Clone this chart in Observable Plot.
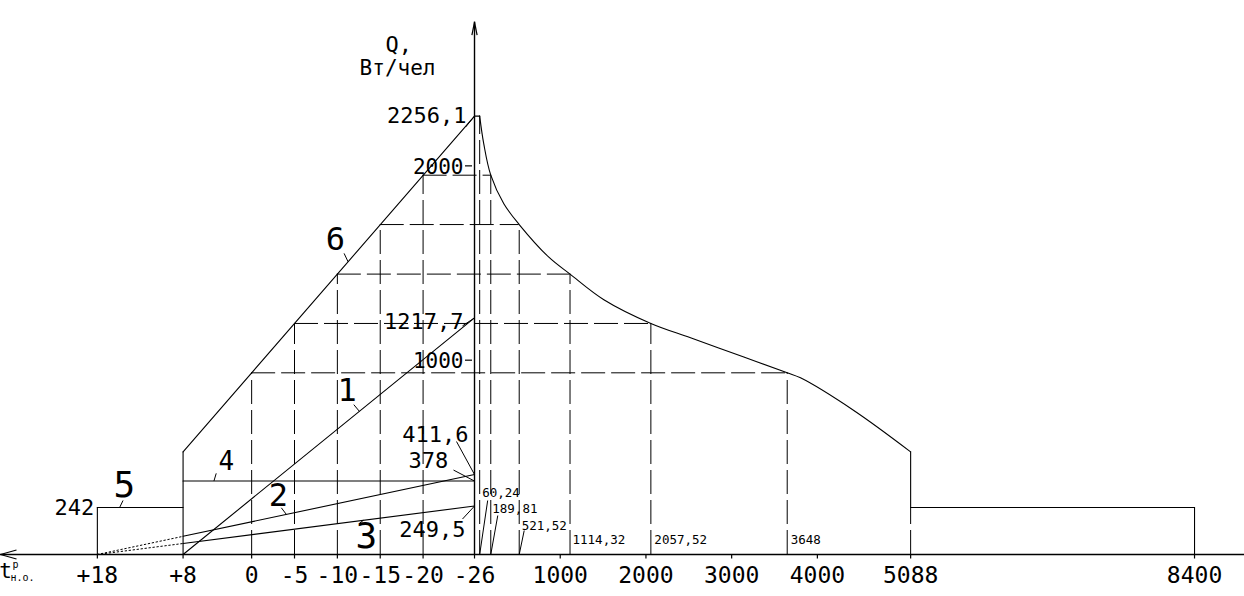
<!DOCTYPE html>
<html><head><meta charset="utf-8">
<script src="https://cdn.jsdelivr.net/npm/d3@7"></script>
<script src="https://cdn.jsdelivr.net/npm/@observablehq/plot@0.6"></script>
<style>html,body{margin:0;padding:0;background:#fff;} svg{display:block}</style>
</head><body><div id="chart"></div>
<script>
// ---- axis ticks ----
const tempTicks = [18, 8, 0, -5, -10, -15, -20, -26];
const tempTickLabels = ["+18", "+8", "0", "-5", "-10", "-15", "-20", "-26"];
const hourTicks = [1000, 2000, 3000, 4000, 5088, 8400];
const hourTickLabels = ["1000", "2000", "3000", "4000", "5088", "8400"];
const qTicks = [1000, 2000];
const qTickLabels = ["1000", "2000"];

// ---- loads vs outdoor temperature (t, Q) ----
const line1T = [8, -26],      line1Q = [0, 1217.7];
const line2T = [18, 8, -26],  line2Q = [0, 93.5, 411.6];
const line3T = [18, 8, -26],  line3Q = [0, 56.7, 249.5];
const line4T = [8, -26],      line4Q = [378, 378];
const line5T = [18, 8],       line5Q = [242, 242];
const line6T = [8, -26],      line6Q = [528, 2256.1];

// ---- construction grid: temperature -> total load -> hours ----
const gridTemps = [0, -5, -10, -15, -20, -26];
const gridQ = [935, 1189, 1443, 1698, 1952, 2256.1];
const gridHours = [3648, 2057.52, 1114.32, 521.52, 189.81, 60.24];
const gridHourLabels = ["3648", "2057,52", "1114,32", "521,52", "189,81", "60,24"];

// ---- annual load duration curve (hours, Q) ----
const peakH = [0, 60.24], peakQ = [2256.1, 2256.1];
const curveH = [60.24, 108, 189.81, 342, 521.52, 867, 1114.32, 1509, 2057.52, 2520, 3142, 3648, 3803, 4425, 5088];
const curveQ = [2256.1, 2113, 1952, 1805, 1698, 1530, 1443, 1311, 1189, 1115, 1016, 935, 909, 741, 528];
const summerH = [5088, 8400], summerQ = [242, 242];

// ---- value labels ----
const axisValueLabels = ["2256,1", "1217,7", "411,6", "378", "249,5"];
const axisValues = [2256.1, 1217.7, 411.6, 378, 249.5];
const summerLabel = "242";
const lineNames = ["1", "2", "3", "4", "5", "6"];

// ---------- geometry ----------
const W = 1244, H = 596, MB = 42;
const xDomain = [-5530, 8983], yDomain = [0, 2851];
const qAxisTop = 2740;
const kx = W / (xDomain[1] - xDomain[0]);
const ky = (H - MB) / (yDomain[1] - yDomain[0]);
const U = t => -(t + 26) * 100;               // temperature -> shared x coordinate
const pts = (ts, qs) => ts.map((t, i) => ({x: U(t), y: qs[i]}));
const hpts = (hs, qs) => hs.map((h, i) => ({x: h, y: qs[i]}));
const off = (p, dx, dy) => ({x: p.x + dx / kx, y: p.y - dy / ky});
const onLine = (ts, qs, t) => {
  for (let i = 0; i < ts.length - 1; i++) {
    const a = ts[i], b = ts[i + 1];
    if ((t <= a && t >= b) || (t >= a && t <= b)) {
      const f = (t - a) / (b - a);
      return {x: U(t), y: qs[i] + f * (qs[i + 1] - qs[i])};
    }
  }
  return {x: U(t), y: qs[0]};
};

const FONT = "DejaVu Sans Mono";
const SW = 1.1;
const DASH = "24,6";

// ticks along the bottom
const xTicks = tempTicks.map((t, i) => ({x: U(t), label: tempTickLabels[i]}))
  .concat(hourTicks.map((h, i) => ({x: h, label: hourTickLabels[i]})));

// dashed grid segments
const gridV = gridTemps.slice(0, 5).map((t, i) => ({x: U(t), y2: gridQ[i]}));
const gridHz = gridTemps.slice(0, 5).map((t, i) => ({x1: U(t), x2: gridHours[i], y: gridQ[i]}));
const gridHV = gridHours.map((h, i) => ({x: h, y2: gridQ[i]}));

// labels at Q axis
const axisLab = [
  {p: {x: 0, y: axisValues[0]}, text: axisValueLabels[0], dx: -8, dy: 0, anchor: "end", lead: [-9, 11]},
  {p: {x: 0, y: axisValues[1]}, text: axisValueLabels[1], dx: -11, dy: 4, anchor: "end", lead: [-12, 8]},
  {p: {x: 0, y: axisValues[2]}, text: axisValueLabels[2], dx: -6, dy: -40, anchor: "end", lead: [-18, -33]},
  {p: {x: 0, y: axisValues[3]}, text: axisValueLabels[3], dx: -66, dy: -20, anchor: "start", lead: [-21, -11]},
  {p: {x: 0, y: axisValues[4]}, text: axisValueLabels[4], dx: -9, dy: 23.5, anchor: "end", lead: [-12, 13]},
  {p: {x: U(line5T[0]), y: line5Q[0]}, text: summerLabel, dx: -3, dy: 0, anchor: "end", lead: null}
];
const qTickLab = qTicks.map((q, i) => ({x: 0, y: q, text: qTickLabels[i]}));

// labels at hours
const hourLabOff = [[3.5, -15, null], [3.5, -15, null], [2.5, -15, null], [2.5, -29, [5, -24]], [1.5, -46, [7, -39]], [2.5, -62, [8, -54]]];
const hourLab = gridHours.map((h, i) => ({p: {x: h, y: 0}, text: gridHourLabels[i], dx: hourLabOff[i][0], dy: hourLabOff[i][1], lead: hourLabOff[i][2]}));

// curve numbers
const nameLab = [
  {p: onLine(line1T, line1Q, -12.57), text: lineNames[0], dx: -12.3, dy: -21, lead: [-5.6, -6.7], size: 32},
  {p: onLine(line2T, line2Q, -4.05), text: lineNames[1], dx: -8, dy: -19, lead: [-5, -6.6], size: 32},
  {p: onLine(line3T, line3Q, -13.04), text: lineNames[2], dx: 3, dy: 16, lead: [-4, 3], size: 36},
  {p: onLine(line4T, line4Q, 4.4), text: lineNames[3], dx: 12.3, dy: -19, lead: [2.3, -7.7], size: 26},
  {p: onLine(line5T, line5Q, 15.4), text: lineNames[4], dx: 4.7, dy: -22, lead: [3.4, -7], size: 36},
  {p: onLine(line6T, line6Q, -11.25), text: lineNames[5], dx: -12.7, dy: -21.7, lead: [-4, -8.4], size: 32}
];

const leaders = axisLab.filter(d => d.lead).map(d => ({a: d.p, b: off(d.p, d.lead[0], d.lead[1])}))
  .concat(hourLab.filter(d => d.lead).map(d => ({a: d.p, b: off(d.p, d.lead[0], d.lead[1])})))
  .concat(nameLab.map(d => ({a: d.p, b: off(d.p, d.lead[0], d.lead[1])})));

const origin = {x: xDomain[0], y: 0};
const axTop = {x: 0, y: qAxisTop};

const chart = Plot.plot({
  width: W, height: H,
  marginLeft: 0, marginRight: 0, marginTop: 0, marginBottom: MB,
  x: {domain: xDomain, axis: null},
  y: {domain: yDomain, axis: null},
  style: {fontFamily: FONT, background: "white", color: "black", overflow: "visible"},
  marks: [
    // dashed construction grid
    Plot.ruleX(gridV, {x: "x", y1: 0, y2: "y2", stroke: "black", strokeWidth: 1, strokeDasharray: DASH}),
    Plot.ruleX(gridHV, {x: "x", y1: 0, y2: "y2", stroke: "black", strokeWidth: 1, strokeDasharray: DASH}),
    Plot.ruleY(gridHz, {x1: "x1", x2: "x2", y: "y", stroke: "black", strokeWidth: 1, strokeDasharray: DASH}),
    Plot.ruleX([summerH[0]], {y1: 0, y2: summerQ[0], stroke: "black", strokeWidth: 1, strokeDasharray: DASH}),

    // axes
    Plot.ruleY([0], {stroke: "black", strokeWidth: 1.4}),
    Plot.ruleX([0], {y1: 0, y2: qAxisTop, stroke: "black", strokeWidth: 1.4}),
    Plot.link([{a: origin, b: off(origin, 16, -4.5)}, {a: origin, b: off(origin, 16, 4.5)}],
      {x1: d => d.a.x, y1: d => d.a.y, x2: d => d.b.x, y2: d => d.b.y, stroke: "black", strokeWidth: 1.2}),
    Plot.link([{a: axTop, b: off(axTop, -2.6, 13)}, {a: axTop, b: off(axTop, 2.6, 13)}],
      {x1: d => d.a.x, y1: d => d.a.y, x2: d => d.b.x, y2: d => d.b.y, stroke: "black", strokeWidth: 1.2}),
    Plot.ruleX(xTicks, {x: "x", y1: 0, y2: -4.5 / ky, stroke: "black", strokeWidth: 1.2}),
    Plot.ruleY(qTicks, {x1: -9 / kx, x2: -2 / kx, stroke: "black", strokeWidth: 1.2}),

    // heating side
    Plot.line(pts(line6T, line6Q), {x: "x", y: "y", stroke: "black", strokeWidth: SW}),
    Plot.ruleX([U(line6T[0])], {y1: 0, y2: line6Q[0], stroke: "black", strokeWidth: SW}),
    Plot.line(pts(line1T, line1Q), {x: "x", y: "y", stroke: "black", strokeWidth: SW}),
    Plot.line(pts(line2T.slice(1), line2Q.slice(1)), {x: "x", y: "y", stroke: "black", strokeWidth: SW}),
    Plot.line(pts(line2T.slice(0, 2), line2Q.slice(0, 2)), {x: "x", y: "y", stroke: "black", strokeWidth: 1, strokeDasharray: "1.5,2.5"}),
    Plot.line(pts(line3T.slice(1), line3Q.slice(1)), {x: "x", y: "y", stroke: "black", strokeWidth: SW}),
    Plot.line(pts(line3T.slice(0, 2), line3Q.slice(0, 2)), {x: "x", y: "y", stroke: "black", strokeWidth: 1, strokeDasharray: "1.5,2.5"}),
    Plot.line(pts(line4T, line4Q), {x: "x", y: "y", stroke: "black", strokeWidth: SW}),
    Plot.line(pts(line5T, line5Q), {x: "x", y: "y", stroke: "black", strokeWidth: SW}),
    Plot.ruleX([U(line5T[0])], {y1: 0, y2: line5Q[0], stroke: "black", strokeWidth: SW}),

    // duration side
    Plot.line(hpts(peakH, peakQ), {x: "x", y: "y", stroke: "black", strokeWidth: SW}),
    Plot.line(hpts(curveH, curveQ), {x: "x", y: "y", curve: "catmull-rom", stroke: "black", strokeWidth: SW}),
    Plot.ruleX([summerH[0]], {y1: summerQ[0], y2: curveQ[curveQ.length - 1], stroke: "black", strokeWidth: SW}),
    Plot.line(hpts(summerH, summerQ), {x: "x", y: "y", stroke: "black", strokeWidth: SW}),
    Plot.ruleX([summerH[1]], {y1: 0, y2: summerQ[1], stroke: "black", strokeWidth: SW}),

    // leaders
    Plot.link(leaders, {x1: d => d.a.x, y1: d => d.a.y, x2: d => d.b.x, y2: d => d.b.y, stroke: "black", strokeWidth: 1}),

    // tick labels
    Plot.text(xTicks, {x: "x", y: 0, text: "label", dy: 21, fontSize: 23, fontFamily: FONT, fill: "black"}),
    Plot.text(qTickLab, {x: "x", y: "y", text: "text", dx: -11, dy: 1, textAnchor: "end", fontSize: 21, fontFamily: FONT, fill: "black"}),

    // value labels
    ...axisLab.map(d => Plot.text([d], {x: d => d.p.x, y: d => d.p.y, text: "text", dx: d.dx, dy: d.dy, textAnchor: d.anchor, fontSize: 22, fontFamily: FONT, fill: "black"})),
    ...hourLab.map(d => Plot.text([d], {x: d => d.p.x, y: d => d.p.y, text: "text", dx: d.dx, dy: d.dy, textAnchor: "start", fontSize: 12.5, fontFamily: FONT, fill: "black"})),
    ...nameLab.map(d => Plot.text([d], {x: d => d.p.x, y: d => d.p.y, text: "text", dx: d.dx, dy: d.dy, fontSize: d.size, fontFamily: FONT, fill: "black"})),

    // axis titles
    Plot.text([axTop], {x: "x", y: "y", text: () => "Q,", dx: -89, dy: 23, textAnchor: "start", fontSize: 22, fontFamily: FONT, fill: "black"}),
    Plot.text([axTop], {x: "x", y: "y", text: () => "Вт/чел", dx: -77, dy: 46, fontSize: 21, fontFamily: FONT, fill: "black"}),
    Plot.text([origin], {x: "x", y: "y", text: () => "t", dx: 5, dy: 17, fontSize: 21, fontFamily: FONT, fill: "black"}),
    Plot.text([origin], {x: "x", y: "y", text: () => "р", dx: 15, dy: 10, fontSize: 10, fontFamily: FONT, fill: "black"}),
    Plot.text([origin], {x: "x", y: "y", text: () => "н.о.", dx: 22, dy: 23, fontSize: 10, fontFamily: FONT, fill: "black"})
  ]
});
document.getElementById("chart").appendChild(chart);
</script>
</body></html>
